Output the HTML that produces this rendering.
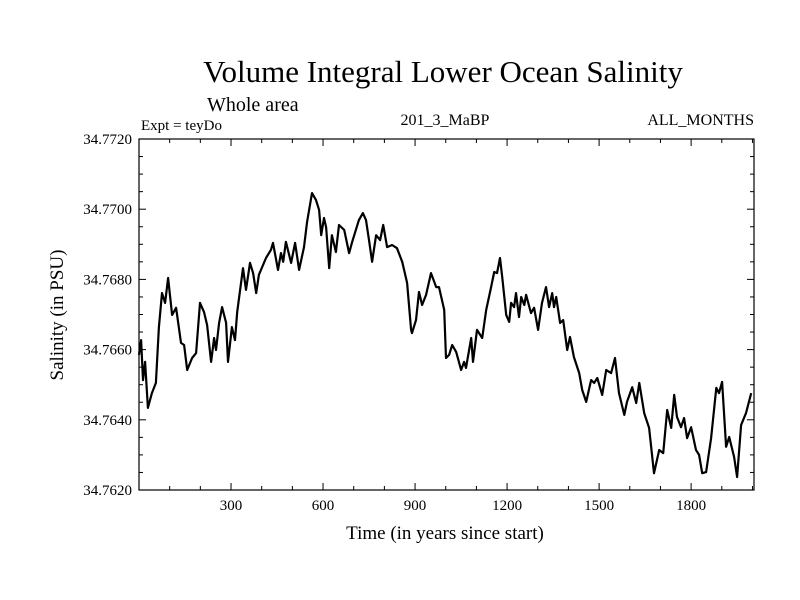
<!DOCTYPE html>
<html><head><meta charset="utf-8"><style>
html,body{margin:0;padding:0;background:#fff;}
svg{display:block;font-family:"Liberation Serif",serif;}
</style></head><body>
<svg id="chart" width="800" height="600" viewBox="0 0 800 600">
<text x="443" y="82" font-size="31" text-anchor="middle">Volume Integral Lower Ocean Salinity</text>
<text x="207" y="111" font-size="20">Whole area</text>
<text x="141" y="130" font-size="15">Expt = teyDo</text>
<text x="445" y="125" font-size="16" text-anchor="middle">201_3_MaBP</text>
<text x="754" y="125" font-size="16" text-anchor="end">ALL_MONTHS</text>
<text x="445" y="539" font-size="19" text-anchor="middle">Time (in years since start)</text>
<text transform="translate(63,315) rotate(-90)" font-size="19" text-anchor="middle">Salinity (in PSU)</text>
<g id="axes"></g>
<g id="series"></g>
</svg>
<script>
const years = [0,7,13,20,29,42,55,65,75,85,95,108,121,137,147,157,173,186,199,212,222,235,245,251,261,271,284,290,303,313,320,339,349,362,372,382,391,414,430,437,453,463,470,479,496,509,522,538,548,564,577,587,594,603,610,620,629,642,652,669,685,695,717,730,740,750,760,773,786,796,809,825,841,858,874,887,890,903,913,923,936,952,969,978,995,1001,1011,1021,1034,1050,1060,1066,1083,1089,1102,1119,1132,1148,1158,1167,1177,1184,1197,1207,1213,1223,1229,1239,1246,1256,1262,1278,1288,1301,1314,1327,1337,1347,1353,1360,1373,1383,1396,1405,1418,1435,1445,1458,1474,1484,1494,1510,1523,1539,1552,1565,1582,1591,1608,1621,1631,1647,1663,1679,1696,1709,1722,1735,1745,1754,1767,1777,1787,1800,1816,1826,1836,1849,1865,1882,1891,1901,1914,1924,1940,1950,1963,1979,1996];
const salinity = [34.76585,34.76627,34.76513,34.76565,34.76434,34.76476,34.76505,34.76664,34.76761,34.76733,34.76804,34.76699,34.76719,34.76619,34.76613,34.76542,34.76576,34.76590,34.76733,34.76707,34.76670,34.76565,34.76633,34.76599,34.76676,34.76721,34.76676,34.76565,34.76664,34.76627,34.76707,34.76832,34.76770,34.76847,34.76818,34.76761,34.76813,34.76861,34.76884,34.76904,34.76827,34.76875,34.76850,34.76907,34.76847,34.76904,34.76827,34.76892,34.76964,34.77046,34.77026,34.76998,34.76926,34.76975,34.76949,34.76832,34.76926,34.76878,34.76955,34.76941,34.76875,34.76907,34.76969,34.76989,34.76969,34.76912,34.76850,34.76926,34.76912,34.76955,34.76892,34.76898,34.76889,34.76850,34.76790,34.76656,34.76647,34.76684,34.76764,34.76727,34.76756,34.76818,34.76778,34.76778,34.76713,34.76576,34.76585,34.76613,34.76593,34.76542,34.76565,34.76548,34.76633,34.76565,34.76656,34.76633,34.76713,34.76778,34.76821,34.76818,34.76861,34.76807,34.76699,34.76679,34.76733,34.76721,34.76761,34.76693,34.76750,34.76727,34.76756,34.76704,34.76719,34.76656,34.76733,34.76778,34.76721,34.76761,34.76721,34.76750,34.76676,34.76684,34.76599,34.76636,34.76579,34.76533,34.76485,34.76451,34.76513,34.76505,34.76519,34.76471,34.76542,34.76533,34.76576,34.76476,34.76414,34.76451,34.76493,34.76448,34.76505,34.76419,34.76377,34.76248,34.76314,34.76305,34.76428,34.76377,34.76471,34.76408,34.76379,34.76405,34.76348,34.76379,34.76314,34.76300,34.76248,34.76251,34.76348,34.76491,34.76476,34.76508,34.76323,34.76351,34.76294,34.76237,34.76385,34.76419,34.76476];
const xTickLabels = ["300","600","900","1200","1500","1800"];
const yTickLabels = ["34.7620","34.7640","34.7660","34.7680","34.7700","34.7720"];

const NS = "http://www.w3.org/2000/svg";
const L = 139, R = 754, T = 139, B = 490;
const xMin = 0, xMax = 2005, yMin = 34.7620, yMax = 34.7720;
function xs(v){ return L + (v - xMin) / (xMax - xMin) * (R - L); }
function ys(v){ return B - (v - yMin) / (yMax - yMin) * (B - T); }
function mk(tag, attrs, parent){ const e = document.createElementNS(NS, tag); for (const k in attrs) e.setAttribute(k, attrs[k]); parent.appendChild(e); return e; }

const axes = document.getElementById('axes');
const frame = mk('rect', {x:L, y:T, width:R-L, height:B-T, fill:'none', stroke:'#000', 'stroke-width':1.2}, axes);



for (let v = 100; v < xMax; v += 100) {
  const major = v % 300 === 0;
  const len = major ? 7 : 4;
  const x = xs(v);
  const t1 = mk('line', {x1:x, x2:x, y1:B, y2:B-len, stroke:'#000', 'stroke-width':1}, axes);
  
  
  const t2 = mk('line', {x1:x, x2:x, y1:T, y2:T+len, stroke:'#000', 'stroke-width':1}, axes);
  
  
}
xTickLabels.forEach(function(lab){
  const t = mk('text', {x:xs(parseFloat(lab)), y:510, 'font-size':15, 'text-anchor':'middle'}, axes);
  t.textContent = lab;
  
  
});
for (let i = 0; i <= 20; i++) {
  const v = yMin + i * 0.0005;
  const major = i % 4 === 0;
  const len = major ? 7 : 4;
  const y = ys(v);
  const t1 = mk('line', {x1:L, x2:L+len, y1:y, y2:y, stroke:'#000', 'stroke-width':1}, axes);
  
  
  const t2 = mk('line', {x1:R, x2:R-len, y1:y, y2:y, stroke:'#000', 'stroke-width':1}, axes);
  
  
}
yTickLabels.forEach(function(lab){
  const t = mk('text', {x:132, y:ys(parseFloat(lab))+5, 'font-size':15, 'text-anchor':'end'}, axes);
  t.textContent = lab;
  
  
});

const series = document.getElementById('series');
let d = '';
years.forEach(function(yr, i){ d += (i ? 'L' : 'M') + xs(yr).toFixed(1) + ',' + ys(salinity[i]).toFixed(1); });
const line = mk('path', {d:d, fill:'none', stroke:'#000', 'stroke-width':2.2, 'stroke-linejoin':'round'}, series);


</script>
</body></html>
